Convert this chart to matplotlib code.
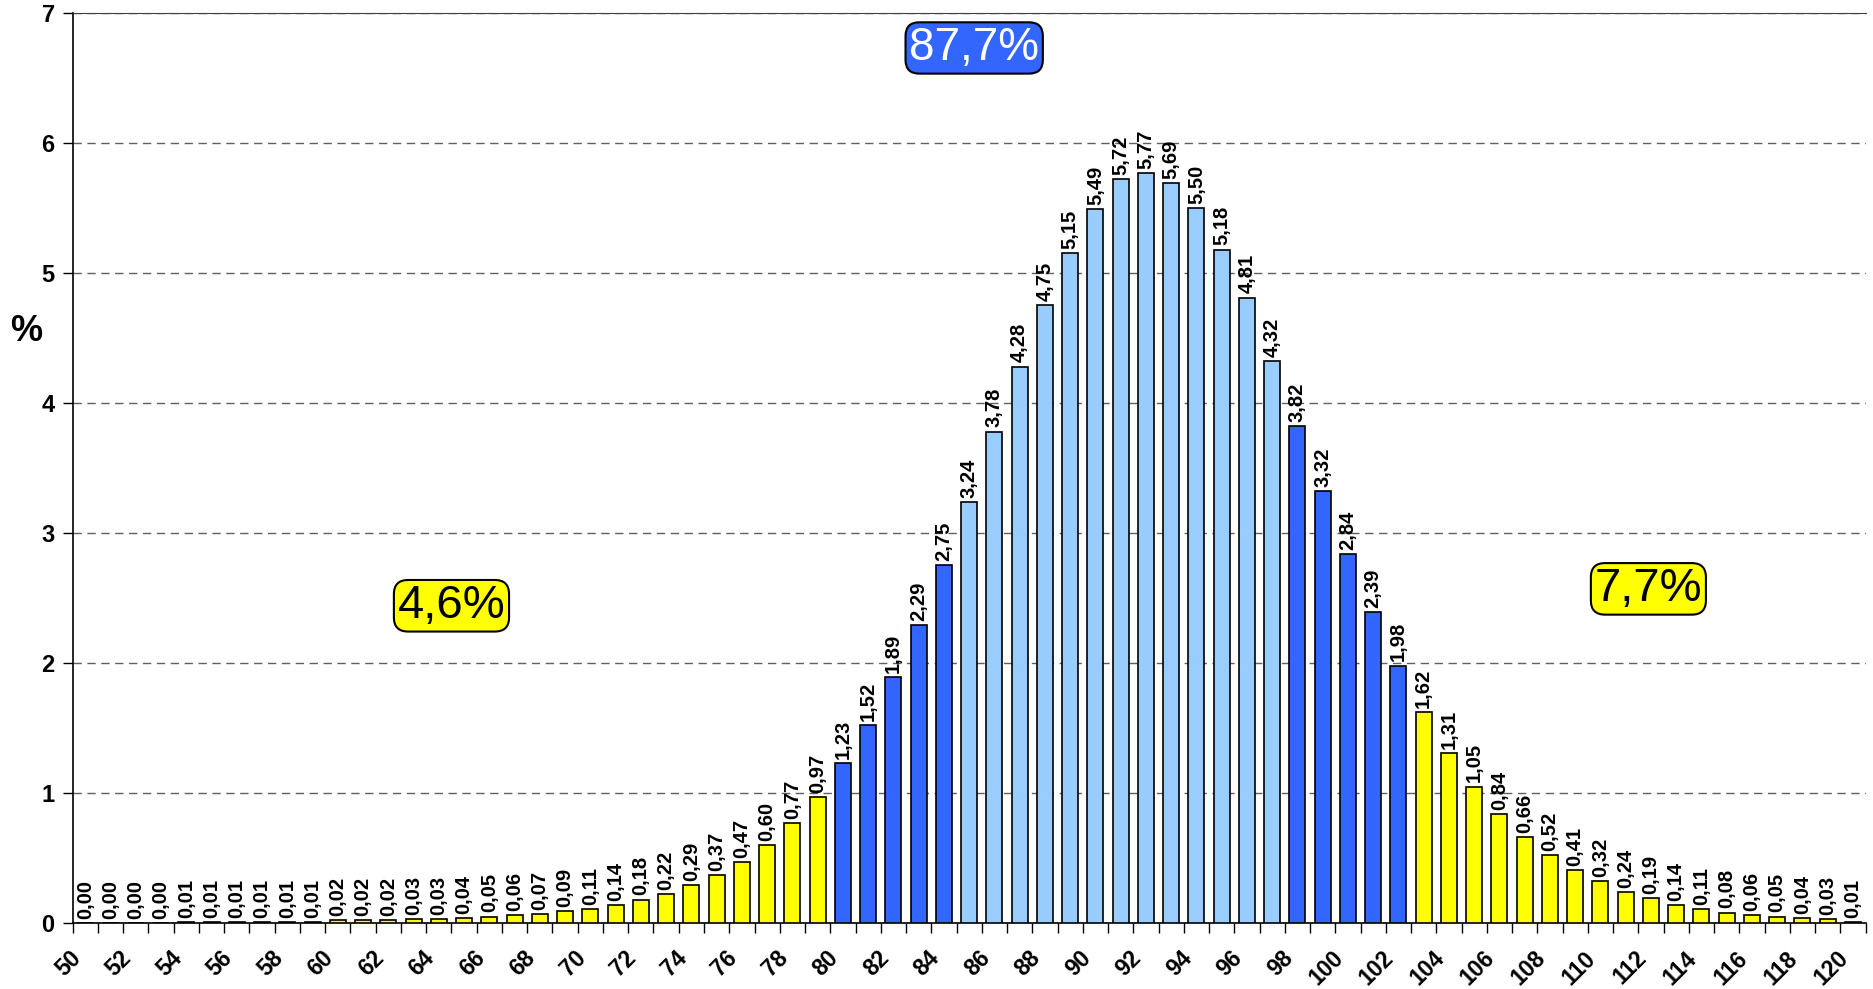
import matplotlib
matplotlib.use("Agg")
from matplotlib import pyplot as plt

plt.rcParams['font.family'] = ['Liberation Sans', 'DejaVu Sans']

# categories 50..120
categories = list(range(50, 121))
values = [0.00, 0.00, 0.00, 0.00, 0.01, 0.01, 0.01, 0.01, 0.01, 0.01,
          0.02, 0.02, 0.02, 0.03, 0.03, 0.04, 0.05, 0.06, 0.07, 0.09,
          0.11, 0.14, 0.18, 0.22, 0.29, 0.37, 0.47, 0.60, 0.77, 0.97,
          1.23, 1.52, 1.89, 2.29, 2.75, 3.24, 3.78, 4.28, 4.75, 5.15,
          5.49, 5.72, 5.77, 5.69, 5.50, 5.18, 4.81, 4.32, 3.82, 3.32,
          2.84, 2.39, 1.98, 1.62, 1.31, 1.05, 0.84, 0.66, 0.52, 0.41,
          0.32, 0.24, 0.19, 0.14, 0.11, 0.08, 0.06, 0.05, 0.04, 0.03,
          0.01]

# zones
tail_low = "4,6%"
centre = "87,7%"
tail_high = "7,7%"

YELLOW = "#FFFF00"
BLUE = "#3366FF"
LIGHT = "#99CCFF"


def bar_colour(c):
    if 85 <= c <= 97:
        return LIGHT
    if 80 <= c <= 102:
        return BLUE
    return YELLOW


fig = plt.figure(figsize=(18.74, 9.89), dpi=100)
ax = fig.add_axes([0.0388, 0.0667, 0.9567, 0.9203])

idx = list(range(len(categories)))
colours = [bar_colour(c) for c in categories]
ax.bar(idx, values, width=0.63, color=colours, edgecolor="black",
       linewidth=1.2, zorder=3)

# data labels
for i, v in zip(idx, values):
    ax.annotate(("%.2f" % v).replace(".", ","), (i, v), xytext=(0, 3),
                textcoords="offset points", rotation=90, ha="center",
                va="bottom", fontsize=14.5, fontweight="bold", zorder=4)

ax.set_xlim(-0.5, len(categories) - 0.5)
ax.set_ylim(0, 7)
ax.set_yticks(range(0, 8))
ax.set_yticklabels([str(t) for t in range(0, 8)], fontsize=17,
                   fontweight="bold")

# tick labels every second category, tick marks at category borders
ax.set_xticks(idx[::2])
ax.set_xticklabels([str(c) for c in categories[::2]], rotation=45,
                   ha="right", fontsize=16.5, fontweight="bold")
ax.tick_params(axis="x", which="major", length=0, pad=17)
ax.set_xticks([i - 0.5 for i in idx] + [len(idx) - 0.5], minor=True)
ax.tick_params(axis="x", which="minor", length=7, width=1, direction="out")
ax.tick_params(axis="y", length=7, width=1, direction="out", pad=6)

ax.grid(axis="y", linestyle=(0, (6, 4)), color="#606060", linewidth=1,
        zorder=0)
ax.spines["right"].set_visible(False)
ax.spines["top"].set_color("#404040")
ax.spines["left"].set_linewidth(1.2)
ax.spines["bottom"].set_linewidth(1.2)

ax.text(-0.026, 0.65, "%", transform=ax.transAxes, fontsize=26,
        fontweight="bold", ha="center", va="center")

box = dict(boxstyle="round,pad=0.08,rounding_size=0.3", edgecolor="black",
           linewidth=1.5)
ax.text(35.2, 6.73, centre, fontsize=33, color="white", ha="center",
        va="center", bbox=dict(box, facecolor=BLUE), zorder=5)
ax.text(14.5, 2.44, tail_low, fontsize=34, color="black", ha="center",
        va="center", bbox=dict(box, facecolor=YELLOW), zorder=5)
ax.text(61.9, 2.57, tail_high, fontsize=34, color="black", ha="center",
        va="center", bbox=dict(box, facecolor=YELLOW), zorder=5)

fig.savefig("out.png", dpi=100)
